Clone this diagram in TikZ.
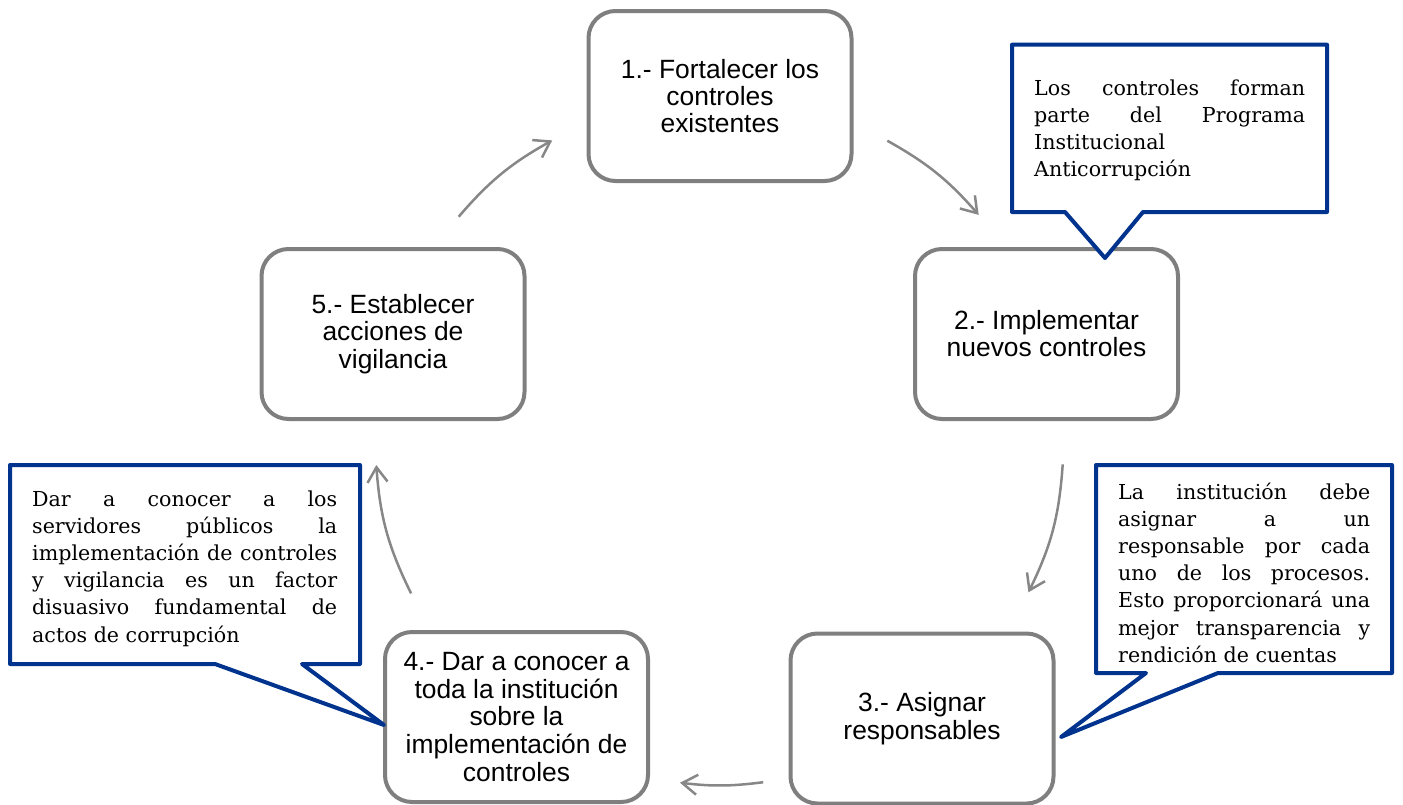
\documentclass[tikz,border=0pt]{standalone}
\usepackage{fontspec}
\setmainfont{DejaVu Serif}
\newfontfamily\boxfont{Liberation Sans}
\usetikzlibrary{arrows.meta}
\definecolor{boxgray}{RGB}{127,127,127}
\definecolor{arrgray}{RGB}{135,135,135}
\definecolor{callblue}{RGB}{0,51,141}
\newcommand{\JustLine}[1]{\makebox[\linewidth][s]{#1}}
\newcommand{\LeftLine}[1]{\makebox[\linewidth][l]{#1}}
\begin{document}
\begin{tikzpicture}[x=1pt,y=-1pt,
  stepbox/.style={draw=boxgray, line width=4pt, rounded corners=27pt, fill=white,
    minimum width=263pt, minimum height=170pt, inner sep=0pt, align=center,
    font={\boxfont\fontsize{26.4}{#1}\selectfont}},
  stepbox/.default=27.5,
  cyclearrow/.style={draw=arrgray, line width=2.5pt, -{Straight Barb[length=15pt,width=20pt]}},
  callout/.style={draw=callblue, line width=4pt, fill=white, line join=round},
  callouttext/.style={inner sep=0pt, anchor=base west, font={\fontsize{20.6}{27.2}\selectfont}}]
\useasboundingbox (0,0) rectangle (1403,804);
\clip (0,0) rectangle (1403,804);

% step boxes
\node[stepbox=27.2] (b1) at (720,96) {1.- Fortalecer los\\controles\\existentes};
\node[stepbox=27] (b2) at (1046.5,334) {2.- Implementar\\nuevos controles};
\node[stepbox=27.5] (b3) at (922,718.5) {3.- Asignar\\responsables};
\node[stepbox=27.7] (b4) at (516.5,717) {4.- Dar a conocer a\\toda la institución\\sobre la\\implementación de\\controles};
\node[stepbox=27.2] (b5) at (393,334) {5.- Establecer\\acciones de\\vigilancia};

% cycle arrows
\coordinate (a1s) at (887.3,140.7);  \coordinate (a1e) at (978.7,214.9);
\coordinate (a2s) at (1062.7,464.4); \coordinate (a2e) at (1028.4,592.3);
\coordinate (a3s) at (763.2,782.2);  \coordinate (a3e) at (680.0,782.7);
\coordinate (a4s) at (411.1,593.4);  \coordinate (a4e) at (376.3,465.0);
\coordinate (a5s) at (458.7,216.7);  \coordinate (a5e) at (552.2,140.4);
\draw[cyclearrow] (a1s) to[bend left=9.8] (a1e);
\draw[cyclearrow] (a2s) to[bend left=11.1] (a2e);
\draw[cyclearrow] (a3s) to[bend left=7] (a3e);
\draw[cyclearrow] (a4s) to[bend left=11.1] (a4e);
\draw[cyclearrow] (a5s) to[bend left=10.1] (a5e);

% callout A (top right)
\coordinate (tipA) at (1105,258);
\draw[callout] (1012,44.7) -- (1327,44.7) -- (1327,212) -- (1143,212) -- (tipA) -- (1065,212) -- (1012,212) -- cycle;
\node[callouttext] (nA) at (1034,95) {\parbox[t]{271pt}{%
\JustLine{Los controles forman}\par
\JustLine{parte del Programa}\par
\LeftLine{Institucional}\par
\LeftLine{Anticorrupción}}};

% callout C (right)
\coordinate (tipC) at (1061,737);
\draw[callout] (1096,465) -- (1392,465) -- (1392,673) -- (1218,673) -- (tipC) -- (1146,673) -- (1096,673) -- cycle;
\node[callouttext] (nC) at (1118,499) {\parbox[t]{252pt}{%
\JustLine{La institución debe}\par
\JustLine{asignar a un}\par
\JustLine{responsable por cada}\par
\JustLine{uno de los procesos.}\par
\JustLine{Esto proporcionará una}\par
\JustLine{mejor transparencia y}\par
\LeftLine{rendición de cuentas}}};

% callout D (left)
\coordinate (tipD) at (384,725);
\draw[callout] (10,465) -- (360,465) -- (360,664) -- (302,664) -- (tipD) -- (215,664) -- (10,664) -- cycle;
\node[callouttext] (nD) at (32,506) {\parbox[t]{305pt}{%
\JustLine{Dar a conocer a los}\par
\JustLine{servidores públicos la}\par
\JustLine{implementación de controles}\par
\JustLine{y vigilancia es un factor}\par
\JustLine{disuasivo fundamental de}\par
\LeftLine{actos de corrupción}}};
\end{tikzpicture}
\end{document}
